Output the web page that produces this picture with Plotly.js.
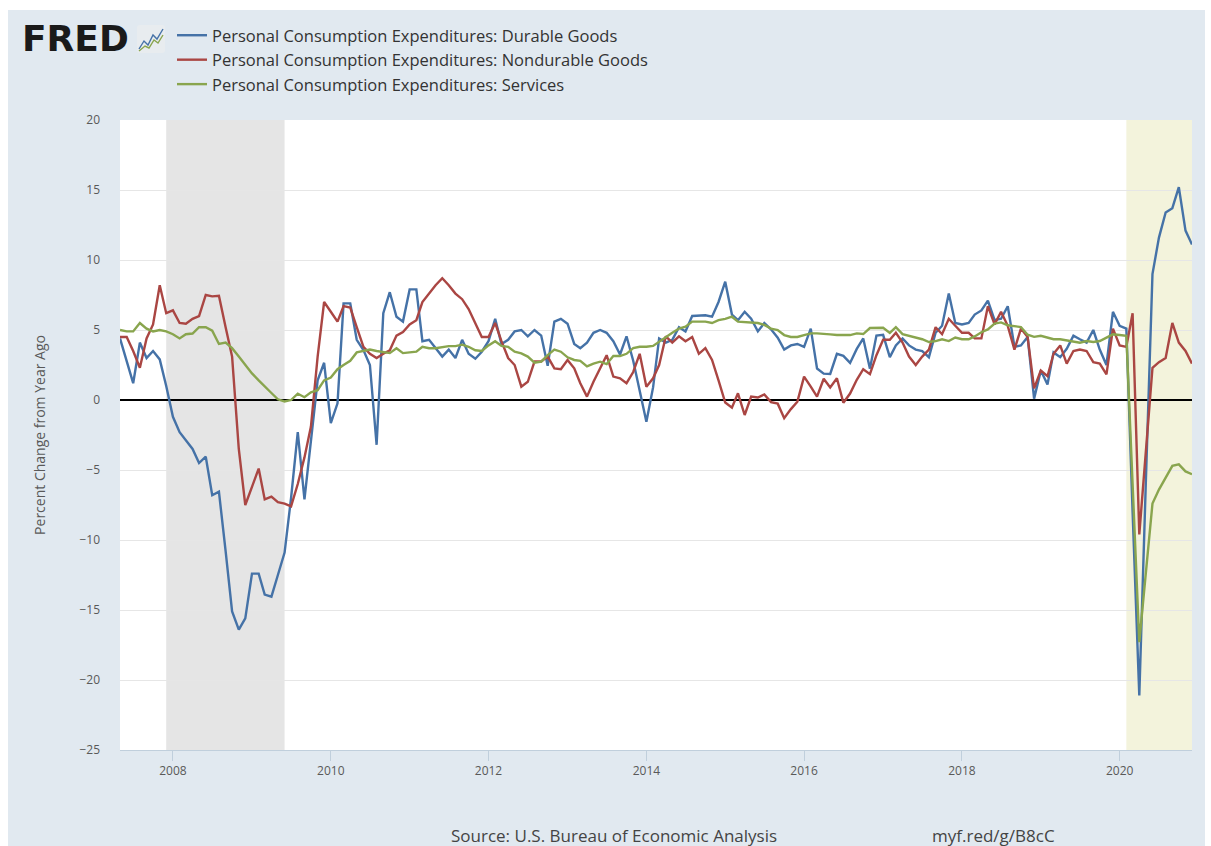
<!DOCTYPE html>
<html>
<head>
<meta charset="utf-8">
<script src="https://cdn.plot.ly/plotly-3.0.1.min.js"></script>
<style>
  html, body { margin: 0; padding: 0; background: #ffffff; width: 1211px; height: 846px; overflow: hidden; }
  #chart { position: absolute; left: 8px; top: 10px; width: 1197px; height: 836px; }
</style>
</head>
<body>
<div id="chart"></div>
<script>
// Monthly series, first observation 2007-05, last 2020-12 (percent change from year ago)
const START = { year: 2007, month: 5 };

const seriesNames = [
  "Personal Consumption Expenditures: Durable Goods",
  "Personal Consumption Expenditures: Nondurable Goods",
  "Personal Consumption Expenditures: Services"
];

const durableGoods = [
  4.4, 2.8, 1.2, 4.1, 3.0, 3.5, 2.9, 1.0, -1.2, -2.3, -2.9, -3.5, -4.5, -4.05, -6.8, -6.55,
  -10.8, -15.1, -16.4, -15.6, -12.4, -12.4, -13.9, -14.05, -12.5, -10.9, -7.0, -2.3, -7.1, -2.9, 1.4, 2.66,
  -1.66, -0.24, 6.9, 6.9, 4.3, 3.57, 2.5, -3.2, 6.2, 7.7, 5.95, 5.6, 7.9, 7.9, 4.2, 4.3,
  3.7, 3.1, 3.6, 3.0, 4.3, 3.3, 2.95, 3.45, 4.2, 5.8, 4.0, 4.3, 4.9, 5.0, 4.55, 5.0,
  4.6, 2.45, 5.6, 5.8, 5.45, 4.0, 3.7, 4.1, 4.8, 5.0, 4.8, 4.2, 3.25, 4.55, 2.8, 0.6,
  -1.55, 0.9, 4.4, 4.1, 4.3, 5.2, 4.9, 6.0, 6.05, 6.05, 5.95, 7.0, 8.45, 6.1, 5.7, 6.3,
  5.8, 4.9, 5.5, 5.05, 4.45, 3.6, 3.9, 4.0, 3.8, 5.1, 2.25, 1.88, 1.86, 3.3, 3.15, 2.65,
  3.65, 4.4, 2.24, 4.6, 4.65, 3.06, 3.9, 4.4, 3.9, 3.6, 3.5, 3.06, 4.8, 5.3, 7.6, 5.5,
  5.4, 5.5, 6.1, 6.4, 7.1, 5.7, 5.8, 6.7, 3.8, 3.9, 4.5, 0.1, 2.1, 1.1, 3.4, 3.06,
  3.66, 4.6, 4.34, 4.1, 5.0, 3.6, 2.5, 6.3, 5.3, 5.1, -8.0, -21.1, -6.0, 9.0, 11.6, 13.4,
  13.7, 15.2, 12.1, 11.1
];

const nondurableGoods = [
  4.5, 4.5, 3.5, 2.3, 4.4, 5.4, 8.2, 6.2, 6.4, 5.5, 5.45, 5.8, 6.0, 7.5, 7.4, 7.45,
  5.2, 3.1, -3.5, -7.5, -6.2, -4.9, -7.1, -6.9, -7.3, -7.4, -7.6, -6.0, -4.1, -1.9, 3.1, 7.0,
  6.3, 5.6, 6.7, 6.6, 5.2, 3.8, 3.3, 3.0, 3.3, 3.55, 4.6, 4.85, 5.4, 5.7, 7.0, 7.6,
  8.2, 8.7, 8.2, 7.6, 7.2, 6.5, 5.5, 4.5, 4.5, 5.5, 4.2, 3.0, 2.5, 0.95, 1.3, 2.75,
  2.75, 3.1, 2.26, 2.2, 2.86, 2.26, 1.2, 0.24, 1.3, 2.26, 3.2, 1.67, 1.55, 1.2, 2.0, 3.3,
  0.95, 1.55, 2.5, 4.55, 4.1, 4.55, 4.2, 4.5, 3.3, 3.7, 2.86, 1.4, -0.18, -0.55, 0.48, -1.07,
  0.24, 0.18, 0.4, -0.15, -0.26, -1.3, -0.65, -0.12, 1.67, 0.95, 0.24, 1.52, 0.9, 1.55, -0.2, 0.46,
  1.44, 2.2, 1.85, 3.2, 4.3, 4.3, 4.8, 4.1, 3.1, 2.5, 3.1, 3.6, 5.2, 4.7, 5.8, 5.3,
  4.8, 4.8, 4.4, 4.4, 6.7, 5.4, 6.3, 5.3, 3.6, 5.1, 4.5, 0.83, 2.1, 1.7, 3.3, 3.9,
  2.6, 3.5, 3.6, 3.5, 2.7, 2.6, 1.83, 5.1, 3.9, 3.8, 6.2, -9.6, -3.6, 2.3, 2.7, 3.0,
  5.5, 4.1, 3.5, 2.6
];

const services = [
  5.0, 4.9, 4.9, 5.5, 5.1, 4.9, 5.0, 4.9, 4.7, 4.4, 4.7, 4.75, 5.2, 5.2, 4.95, 4.0,
  4.1, 3.7, 3.1, 2.5, 1.9, 1.4, 1.0, 0.5, 0.05, -0.1, 0.0, 0.45, 0.2, 0.55, 0.7, 1.4,
  1.6, 2.2, 2.5, 2.8, 3.4, 3.5, 3.6, 3.5, 3.4, 3.35, 3.7, 3.35, 3.4, 3.45, 3.8, 3.7,
  3.7, 3.8, 3.85, 3.85, 3.95, 3.8, 3.55, 3.5, 3.9, 4.2, 3.86, 3.8, 3.45, 3.33, 3.1, 2.67,
  2.74, 3.2, 3.6, 3.45, 3.05, 2.86, 2.8, 2.4, 2.6, 2.74, 2.57, 3.14, 3.14, 3.3, 3.7, 3.8,
  3.8, 3.86, 4.17, 4.5, 4.8, 5.1, 5.24, 5.6, 5.6, 5.6, 5.5, 5.7, 5.8, 5.95, 5.6, 5.55,
  5.5, 5.5, 5.36, 5.1, 5.0, 4.64, 4.5, 4.5, 4.64, 4.76, 4.76, 4.7, 4.69, 4.64, 4.64, 4.64,
  4.76, 4.71, 5.14, 5.16, 5.16, 4.79, 5.2, 4.71, 4.59, 4.46, 4.34, 4.14, 4.21, 4.34, 4.21, 4.46,
  4.34, 4.34, 4.54, 4.84, 5.04, 5.46, 5.54, 5.34, 5.29, 5.21, 4.66, 4.51, 4.59, 4.46, 4.34, 4.34,
  4.26, 4.14, 4.09, 4.21, 4.14, 4.21, 4.46, 4.69, 4.64, 4.59, -6.0, -17.3, -12.4, -7.4, -6.4, -5.6,
  -4.7, -4.6, -5.1, -5.3
];

const recessions = [
  ["2007-12-01", "2009-06-01"],
  ["2020-02-01", "2020-12-01"]
];
const recessionColors = ["#e5e5e5", "#f3f3dc"];

const seriesColors = ["#4572a7", "#aa4643", "#89a54e"];
const yTitle = "Percent Change from Year Ago";
const sourceText = "Source: U.S. Bureau of Economic Analysis";
const linkText = "myf.red/g/B8cC";

function monthDates(n) {
  const out = [];
  for (let k = 0; k < n; k++) {
    const m0 = START.month - 1 + k;
    const y = START.year + Math.floor(m0 / 12);
    const m = (m0 % 12) + 1;
    out.push(y + "-" + String(m).padStart(2, "0") + "-01");
  }
  return out;
}
const dates = monthDates(durableGoods.length);

// layout geometry (div is 1197x836, placed at page 8,10)
const W = 1197, H = 836;
const M = { l: 112, r: 13, t: 110, b: 96 };
const PW = W - M.l - M.r, PH = H - M.t - M.b;
const px = X => (X - 8 - M.l) / PW;      // page x -> paper x
const py = Y => 1 - (Y - 10 - M.t) / PH;  // page y -> paper y
const cy = Y => 1 - (Y - 10) / H;         // page y -> container y

const FONT = '"Open Sans", "Noto Sans", sans-serif';

const traces = [durableGoods, nondurableGoods, services].map((vals, k) => ({
  type: "scatter",
  mode: "lines",
  x: dates,
  y: vals,
  name: seriesNames[k],
  line: { color: seriesColors[k], width: 2.4 },
  hoverinfo: "x+y"
}));

const shapes = recessions.map((r, k) => ({
  type: "rect", xref: "x", yref: "paper",
  x0: r[0], x1: r[1], y0: 0, y1: 1,
  fillcolor: recessionColors[k], line: { width: 0 }, layer: "below"
}));

const iconSvg = '<svg xmlns="http://www.w3.org/2000/svg" width="30" height="30" viewBox="0 0 30 30">' +
  '<rect x="1" y="1" width="28" height="28" rx="3" fill="#e8ecef"/>' +
  '<polyline points="3,25 8,17 12,21 17,11 21,15 27,5" fill="none" stroke="#4572a7" stroke-width="1.4"/>' +
  '<polyline points="3,27 9,22 13,24 18,16 22,19 27,11" fill="none" stroke="#89a54e" stroke-width="1.4"/>' +
  '</svg>';

const layout = {
  width: W, height: H,
  margin: M,
  paper_bgcolor: "#e1e9f0",
  plot_bgcolor: "#ffffff",
  font: { family: FONT, size: 12, color: "#595959" },
  showlegend: true,
  legend: {
    xref: "paper", yref: "container",
    x: px(172), y: cy(18), xanchor: "left", yanchor: "top",
    bgcolor: "rgba(0,0,0,0)", borderwidth: 0,
    font: { family: FONT, size: 16.5, color: "#333333" },
    tracegroupgap: 0
  },
  xaxis: {
    type: "date",
    range: ["2007-05-01", "2020-12-01"],
    tick0: "2008-01-01", dtick: "M24", tickformat: "%Y",
    showgrid: false, zeroline: false,
    showline: true, linecolor: "#c0cfdc", linewidth: 1,
    ticks: "outside", ticklen: 10, tickcolor: "#c0cfdc",
    tickfont: { family: FONT, size: 12, color: "#595959" },
    fixedrange: true
  },
  yaxis: {
    range: [-25, 20], dtick: 5, tick0: 0,
    showgrid: true, gridcolor: "#e6e6e6", gridwidth: 1,
    zeroline: true, zerolinecolor: "#000000", zerolinewidth: 2,
    showline: false, ticks: "", ticklabelstandoff: 19,
    tickfont: { family: FONT, size: 12, color: "#595959" },
    title: { text: yTitle, font: { family: FONT, size: 14, color: "#595959" }, standoff: 30 },
    fixedrange: true
  },
  shapes: shapes,
  images: [{
    source: "data:image/svg+xml;charset=utf-8," + encodeURIComponent(iconSvg),
    xref: "paper", yref: "paper",
    x: px(136), y: py(24), sizex: 30 / PW, sizey: 30 / PH,
    xanchor: "left", yanchor: "top", layer: "above"
  }],
  annotations: [
    {
      text: "<b>FRED</b>", xref: "paper", yref: "paper",
      x: px(20), y: py(38), xanchor: "left", yanchor: "middle", showarrow: false,
      font: { family: '"DejaVu Sans", "Liberation Sans", sans-serif', size: 36, color: "#1a1a1a" }
    },
    {
      text: sourceText, xref: "paper", yref: "paper",
      x: px(614), y: py(835), xanchor: "center", yanchor: "middle", showarrow: false,
      font: { family: FONT, size: 17, color: "#444444" }
    },
    {
      text: linkText, xref: "paper", yref: "paper",
      x: px(993), y: py(835), xanchor: "center", yanchor: "middle", showarrow: false,
      font: { family: FONT, size: 17, color: "#444444" }
    }
  ]
};

Plotly.newPlot("chart", traces, layout, { displayModeBar: false, staticPlot: true });
</script>
</body>
</html>
